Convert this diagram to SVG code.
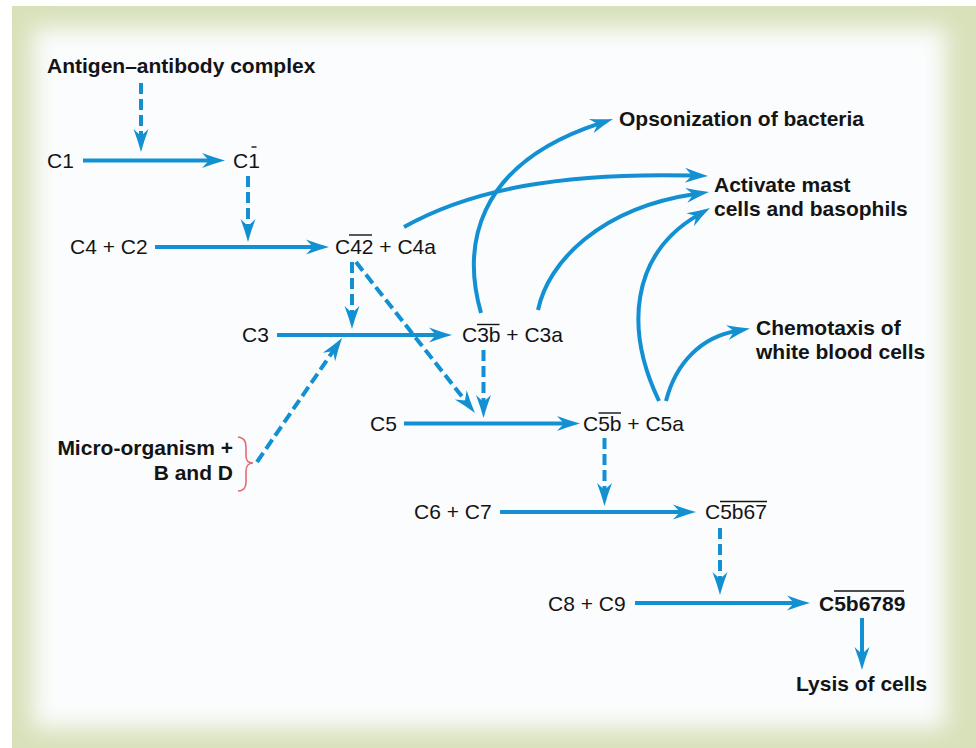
<svg xmlns="http://www.w3.org/2000/svg" width="976" height="748" viewBox="0 0 976 748">
<defs>
<style>
text{font-family:"Liberation Sans",Arial,Helvetica,sans-serif;font-size:21px;fill:#141414}
.b{font-weight:bold}
.ln{fill:none;stroke:#1290d2;stroke-width:4}
.ds{fill:none;stroke:#1290d2;stroke-width:4;stroke-dasharray:11 5}
.ol{stroke:#141414;stroke-width:1.4}
.ah{marker-end:url(#ah)}
</style>
<marker id="ah" viewBox="-40 -10 42 20" refX="-14" refY="0" markerWidth="42" markerHeight="20" orient="auto" markerUnits="userSpaceOnUse">
<path d="M0,0 Q-11,-3 -23,-7.5 L-16,0 L-23,7.5 Q-11,3 0,0 Z" fill="#1290d2"/>
</marker>
<filter id="soft" x="-10%" y="-10%" width="120%" height="120%">
<feGaussianBlur stdDeviation="11"/>
</filter>
</defs>
<g id="frame">
<rect x="12" y="6" width="964" height="742" fill="#d8e1ba"/>
<rect x="33" y="28" width="913" height="700" fill="#fbfcfd" filter="url(#soft)"/>
</g>
<g id="connectors">
<line class="ln ah" x1="83" y1="160.5" x2="211" y2="160.5"/>
<line class="ln ah" x1="155" y1="247" x2="315" y2="247"/>
<line class="ln ah" x1="277" y1="335" x2="438" y2="335"/>
<line class="ln ah" x1="404" y1="423.5" x2="566" y2="423.5"/>
<line class="ln ah" x1="500" y1="512" x2="682" y2="512"/>
<line class="ln ah" x1="635" y1="603" x2="796" y2="603"/>
<line class="ln ah" x1="862" y1="618" x2="862" y2="656"/>
<line class="ds ah" x1="141" y1="83" x2="141" y2="138"/>
<line class="ds ah" x1="248" y1="176" x2="248" y2="228"/>
<line class="ds ah" x1="352" y1="262" x2="352" y2="315"/>
<line class="ds ah" x1="356" y1="262" x2="466.3" y2="402"/>
<line class="ds ah" x1="483.5" y1="350" x2="483.5" y2="404"/>
<line class="ds ah" x1="257" y1="462" x2="334.1" y2="349.6"/>
<line class="ds ah" x1="604.5" y1="438" x2="604.5" y2="492"/>
<line class="ds ah" x1="720" y1="528" x2="720" y2="581"/>
<path class="ln ah" d="M481,313 C463,250 472,165 599.7,123.3"/>
<path class="ln ah" d="M404,227 C470,190 560,172 694,175.6"/>
<path class="ln ah" d="M538,310 C548,262 600,208 695.2,194"/>
<path class="ln ah" d="M659,401 C625,330 630,255 697.9,215.1"/>
<path class="ln ah" d="M666,401 C676,362 702,337 736.2,331"/>
</g>
<g id="antigen"><text class="b" x="47" y="73">Antigen–antibody complex</text></g>
<g id="c1"><text x="47" y="168">C1</text></g>
<g id="c1bar"><text x="233" y="168">C1</text><line class="ol" x1="251.5" y1="147" x2="256.5" y2="147"/></g>
<g id="c4c2"><text x="70" y="254">C4 + C2</text></g>
<g id="c42"><text x="335" y="254">C42 + C4a</text><line class="ol" x1="349" y1="235" x2="372" y2="235"/></g>
<g id="c3"><text x="242" y="342">C3</text></g>
<g id="c3b"><text x="462" y="342">C3b + C3a</text><line class="ol" x1="477" y1="324.5" x2="499.5" y2="324.5"/></g>
<g id="micro">
<text class="b" x="233" y="455" text-anchor="end">Micro-organism +</text>
<text class="b" x="233" y="480" text-anchor="end">B and D</text>
<path d="M238,437 C245,438 246,442 246,449 L246,456 C246,461 249,463 253,463 C249,463 246,466 246,471 L246,482 C246,488 244,491 238,491" fill="none" stroke="#e46b72" stroke-width="1.6"/>
</g>
<g id="c5"><text x="370" y="431">C5</text></g>
<g id="c5b"><text x="583" y="431">C5b + C5a</text><line class="ol" x1="598.5" y1="413" x2="621" y2="413"/></g>
<g id="c6c7"><text x="414" y="519">C6 + C7</text></g>
<g id="c5b67"><text x="705" y="519">C5b67</text><line class="ol" x1="720" y1="501.5" x2="767" y2="501.5"/></g>
<g id="c8c9"><text x="548" y="611">C8 + C9</text></g>
<g id="c5b6789"><text class="b" x="819" y="611">C5b6789</text><line class="ol" x1="834" y1="591" x2="904" y2="591"/></g>
<g id="lysis"><text class="b" x="796" y="691">Lysis of cells</text></g>
<g id="opsonization"><text class="b" x="619" y="126">Opsonization of bacteria</text></g>
<g id="activate"><text class="b" x="714" y="192">Activate mast</text><text class="b" x="714" y="216">cells and basophils</text></g>
<g id="chemotaxis"><text class="b" x="756" y="335">Chemotaxis of</text><text class="b" x="756" y="359">white blood cells</text></g>
</svg>
